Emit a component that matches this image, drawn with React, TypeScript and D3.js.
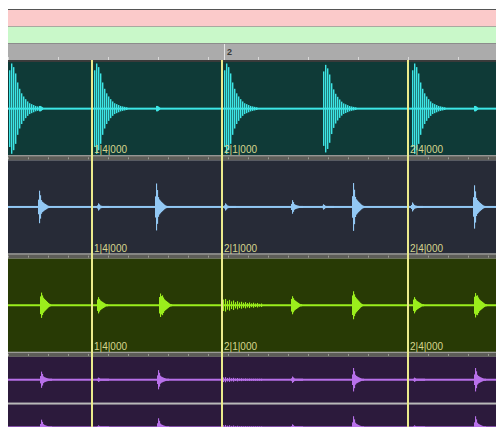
import { useEffect, useRef } from "react";
import * as d3 from "d3";

const W = 496;
const H = 427;

// timeline (units are ticks of the session ruler at this zoom level)
const barMarkers = [84, 214, 400];
const barLabels = ["1|4|000", "2|1|000", "2|4|000"];
const rulerBars = [214];
const rulerLabels = ["2"];

const trackNames = ["Kick", "Snare", "Hat", "Perc"];
const labelledTracks = ["Kick", "Snare", "Hat"];

type Hit = { t: number; a: number; kind?: string };

// hits per track: t = onset, a = peak (0..1 of lane)
const kickHits: Hit[] = [
  { t: 1, a: 1.0 },
  { t: 31, a: 0.06, kind: "blip" },
  { t: 86, a: 1.0 },
  { t: 148, a: 0.06, kind: "blip" },
  { t: 216, a: 1.0 },
  { t: 315, a: 0.97 },
  { t: 404, a: 1.0 },
  { t: 466, a: 0.06, kind: "blip" },
];
const snareHits: Hit[] = [
  { t: 30, a: 0.36 },
  { t: 89, a: 0.08 },
  { t: 147, a: 0.52 },
  { t: 216, a: 0.08 },
  { t: 283, a: 0.15 },
  { t: 314, a: 0.06 },
  { t: 344, a: 0.53 },
  { t: 403, a: 0.1 },
  { t: 465, a: 0.48 },
];
const hatHits: Hit[] = [
  { t: 32, a: 0.28 },
  { t: 89, a: 0.18 },
  { t: 151, a: 0.26 },
  { t: 153, a: 0.22 },
  { t: 215, a: 0.14, kind: "roll" },
  { t: 283, a: 0.2 },
  { t: 344, a: 0.31 },
  { t: 405, a: 0.18 },
  { t: 466, a: 0.27 },
  { t: 468, a: 0.22 },
];
const percHits: Hit[] = [
  { t: 32, a: 0.38 },
  { t: 89, a: 0.1 },
  { t: 149, a: 0.45 },
  { t: 215, a: 0.12, kind: "roll" },
  { t: 283, a: 0.15 },
  { t: 344, a: 0.55 },
  { t: 405, a: 0.1 },
  { t: 466, a: 0.55 },
];

// envelope shapes after the onset (relative height of each column)
const ringProfile = [0.85, 1.0, 0.92, 0.78, 0.58, 0.44, 0.34, 0.27, 0.21, 0.16, 0.12, 0.1, 0.08, 0.06, 0.05, 0.04, 0.03];
const snapProfile = [0.45, 1.0, 0.72, 0.42, 0.32, 0.27, 0.22, 0.18, 0.14, 0.1, 0.07, 0.05];
const tickProfile = [0.7, 1.0, 0.78, 0.6, 0.5, 0.42, 0.34, 0.26, 0.18, 0.12, 0.07];
const rollProfile = [0.9, 1.0, 0.7, 0.85, 0.6, 0.75, 0.5, 0.65, 0.45, 0.55, 0.4, 0.5, 0.35, 0.45, 0.3, 0.4, 0.28, 0.35, 0.22, 0.28];
const blipProfile = [1.0, 1.0, 0.8, 0.5];

const palette = [
  { bg: "#0f3a37", wave: "#3de6e6", profile: ringProfile, step: 2 },
  { bg: "#272b37", wave: "#92c8f4", profile: snapProfile, step: 1 },
  { bg: "#283a05", wave: "#9bee1c", profile: tickProfile, step: 1 },
  { bg: "#2c1a3c", wave: "#b870ea", profile: snapProfile, step: 1 },
];
const trackHits = [kickHits, snareHits, hatHits, percHits];
const trackChannels = [1, 1, 1, 2];

export default function App() {
  const ref = useRef<SVGSVGElement>(null);

  useEffect(() => {
    const svg = d3.select(ref.current);
    svg.selectAll("*").remove();

    const x = d3.scaleLinear().domain([0, 488]).range([8, 496]);
    const y = d3.scaleBand<string>().domain(trackNames).range([62, 62 + 4 * 98.3]);
    const sep = 5;

    svg.append("rect").attr("width", W).attr("height", H).attr("fill", "#ffffff");

    // marker / tempo rows
    svg.append("rect").attr("x", 8).attr("y", 9).attr("width", W - 8).attr("height", 1).attr("fill", "#555");
    svg.append("rect").attr("x", 8).attr("y", 10).attr("width", W - 8).attr("height", 16).attr("fill", "#fbcaca");
    svg.append("rect").attr("x", 8).attr("y", 26).attr("width", W - 8).attr("height", 1).attr("fill", "#a9a9a0");
    svg.append("rect").attr("x", 8).attr("y", 27).attr("width", W - 8).attr("height", 16).attr("fill", "#c9f8c9");
    svg.append("rect").attr("x", 8).attr("y", 43).attr("width", W - 8).attr("height", 1).attr("fill", "#8c8c8c");

    // bar ruler
    svg.append("rect").attr("x", 8).attr("y", 44).attr("width", W - 8).attr("height", 16).attr("fill", "#ababab");
    svg.append("rect").attr("x", 8).attr("y", 60).attr("width", W - 8).attr("height", 2).attr("fill", "#3a3a3a");
    const rulerTicks = svg.append("g");
    x.ticks(12).forEach((t) => {
      rulerTicks.append("rect").attr("x", x(t)).attr("y", 57).attr("width", 1).attr("height", 3).attr("fill", "#d8d8d8");
    });
    rulerBars.forEach((t, i) => {
      svg.append("rect").attr("x", x(t) + 2).attr("y", 44).attr("width", 1).attr("height", 16).attr("fill", "#e6e6e6");
      svg
        .append("text")
        .attr("x", x(t) + 5)
        .attr("y", 55)
        .style("font-family", "Liberation Sans, Arial, sans-serif")
        .style("font-size", "9px")
        .style("font-weight", "bold")
        .style("fill", "#3a3a3a")
        .text(rulerLabels[i]);
    });

    // tracks
    trackNames.forEach((name, ti) => {
      const top = y(name) as number;
      const bh = y.bandwidth();
      const ch = bh - sep;
      const pal = palette[ti];
      const g = svg.append("g");

      g.append("rect").attr("x", 8).attr("y", top).attr("width", W - 8).attr("height", ch).attr("fill", pal.bg);

      const nch = trackChannels[ti];
      const laneH = (ch - (nch - 1) * 2) / nch;
      for (let c = 0; c < nch; c++) {
        const laneTop = top + c * (laneH + 2);
        const mid = laneTop + laneH / 2;
        const amp = d3.scaleLinear().domain([0, 1]).range([0, laneH / 2 - 1.5]);
        if (c > 0) {
          g.append("rect").attr("x", 8).attr("y", laneTop - 2).attr("width", W - 8).attr("height", 2).attr("fill", "#b9b9b9");
        }
        // baseline
        g.append("rect").attr("x", 8).attr("y", mid - 1).attr("width", W - 8).attr("height", 2).attr("fill", pal.wave);

        trackHits[ti].forEach((h) => {
          const prof = h.kind === "roll" ? rollProfile : h.kind === "blip" ? blipProfile : pal.profile;
          const step = h.kind === "roll" ? 2 : h.kind === "blip" ? 1 : pal.step;
          const a = c > 0 ? h.a * 0.95 : h.a;
          prof.forEach((p, k) => {
            const hh = Math.max(1, amp(a * p));
            g.append("rect")
              .attr("x", x(h.t) + k * step)
              .attr("y", mid - hh)
              .attr("width", pal.step === 2 && !h.kind ? 1.4 : 1.1)
              .attr("height", hh * 2)
              .attr("fill", pal.wave);
          });
        });
      }

      // separator strip with ruler ticks
      g.append("rect").attr("x", 8).attr("y", top + ch).attr("width", W - 8).attr("height", sep).attr("fill", "#5d5d58");
      g.append("rect").attr("x", 8).attr("y", top + ch).attr("width", W - 8).attr("height", 1).attr("fill", "#a3a3a0");
      x.ticks(30).forEach((t) => {
        g.append("rect").attr("x", x(t)).attr("y", top + ch + 2).attr("width", 1).attr("height", 2).attr("fill", "#9a9a92");
      });
    });

    // bar lines
    barMarkers.forEach((t, i) => {
      svg.append("rect").attr("x", x(t) - 1).attr("y", 60).attr("width", 2).attr("height", H - 60).attr("fill", "#ebeb8c");
      labelledTracks.forEach((name) => {
        const top = y(name) as number;
        svg
          .append("text")
          .attr("x", x(t) + 2)
          .attr("y", top + y.bandwidth() - sep - 2)
          .style("font-family", "Liberation Sans, Arial, sans-serif")
          .style("font-size", "10px")
          .style("fill", "#d6d68e")
          .text(barLabels[i]);
      });
    });
  }, []);

  return (
    <svg
      ref={ref}
      width={W}
      height={H}
      style={{ position: "fixed", left: 0, top: 0, display: "block" }}
    />
  );
}
